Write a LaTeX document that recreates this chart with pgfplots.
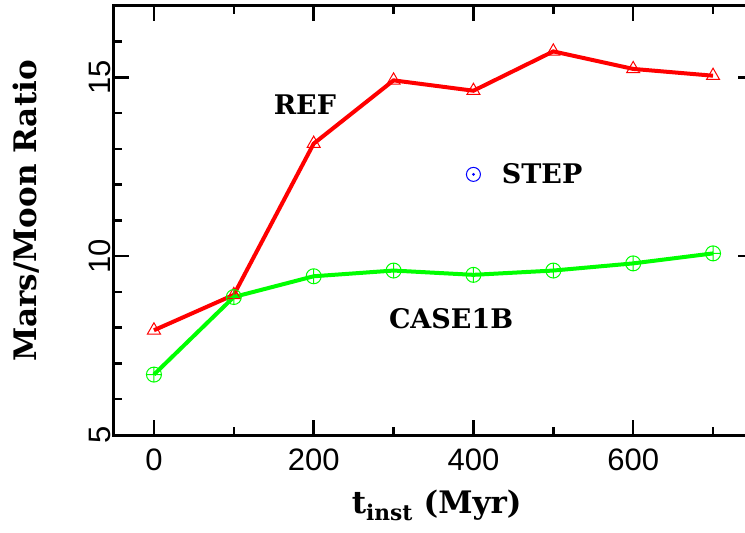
\documentclass[border=0pt]{standalone}
\usepackage{fontspec}
\setmainfont{DejaVu Serif}
\newfontfamily\tickfont{Liberation Sans}
\usepackage{pgfplots}
\pgfplotsset{compat=1.18}
\begin{document}
\begin{tikzpicture}[x=1pt,y=1pt]
\begin{axis}[
  at={(0,0)}, anchor=south west,
  scale only axis, width=639pt, height=429pt,
  xmin=-50, xmax=750, ymin=5, ymax=17,
  xtick={0,200,400,600}, minor xtick={100,300,500,700},
  ytick={5,10,15}, minor ytick={6,7,8,9,11,12,13,14,16},
  tick align=inside,
  xticklabel pos=left, yticklabel pos=left,
  major tick length=15pt, minor tick length=8pt,
  every tick/.style={black, line width=2.5pt},
  axis line style={black, line width=3pt},
  /pgf/number format/assume math mode=true,
  ticklabel style={font=\tickfont\fontsize{31}{31}\selectfont},
  xticklabel style={yshift=-10pt},
  yticklabel style={rotate=90, anchor=south, xshift=0pt},
  xlabel={\bfseries t\textsubscript{inst} (Myr)},
  ylabel={\bfseries Mars/Moon Ratio},
  xlabel style={at={(axis description cs:0.505,-0.182)}, anchor=base},
  ylabel style={at={(axis description cs:-0.138,0.522)}, anchor=center},
  label style={font=\fontsize{31}{31}\selectfont},
  clip=false,
]
\addplot[red, line width=4pt, mark=triangle, mark size=7.5pt,
  mark options={line width=1pt, solid}] coordinates {
  (0,7.93) (100,8.92) (200,13.15) (300,14.92) (400,14.63) (500,15.73) (600,15.24) (700,15.05)};
\addplot[green, line width=4pt, mark=oplus, mark size=7.5pt,
  mark options={line width=1pt, solid}] coordinates {
  (0,6.69) (100,8.86) (200,9.44) (300,9.60) (400,9.48) (500,9.60) (600,9.80) (700,10.08)};
\addplot[blue, only marks, mark=o, mark size=7pt, mark options={line width=1pt}] coordinates {(400,12.29)};
\addplot[blue, only marks, mark=*, mark size=1.2pt] coordinates {(400,12.29)};
\node[font=\bfseries\fontsize{27}{27}\selectfont] at (axis cs:189,14.23) {REF};
\node[font=\bfseries\fontsize{27}{27}\selectfont] at (axis cs:486,12.30) {STEP};
\node[font=\bfseries\fontsize{27}{27}\selectfont] at (axis cs:372,8.24) {CASE1B};
\end{axis}
\pgfresetboundingbox
\useasboundingbox (-114,-98) rectangle (631,435);
\end{tikzpicture}
\end{document}
